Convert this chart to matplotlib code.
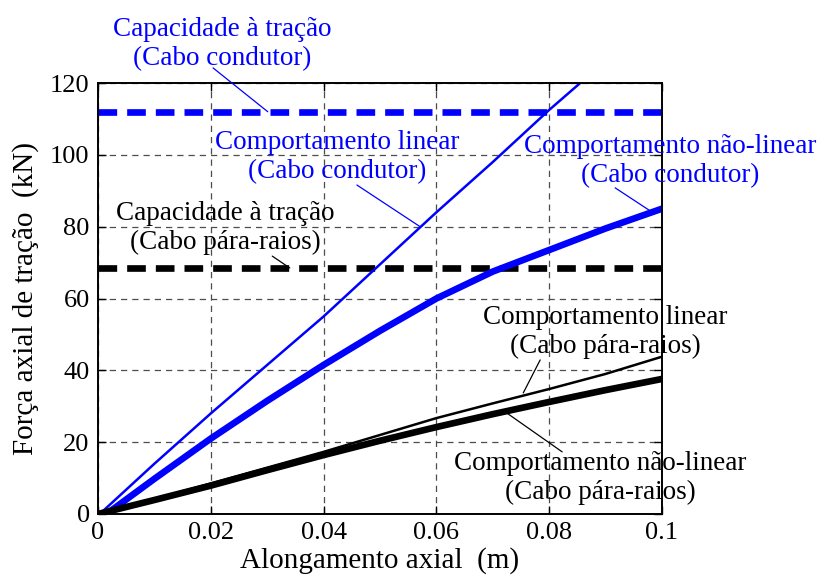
import numpy as np
import matplotlib
matplotlib.use("Agg")
import matplotlib.pyplot as plt

plt.rcParams['font.family'] = ['Liberation Serif', 'DejaVu Serif']

# alongamento axial (m) x forca (kN)
x_lin_cond = [0.0, 0.001, 0.01, 0.02, 0.03, 0.04, 0.05, 0.06, 0.07, 0.08, 0.0855]
y_lin_cond = [0.0, 1.0, 14.0, 28.0, 41.5, 55.0, 69.5, 84.0, 98.0, 112.5, 120.0]

x_nl_cond = [0.0015, 0.01, 0.02, 0.03, 0.04, 0.05, 0.06, 0.07, 0.08, 0.09, 0.1]
y_nl_cond = [0.0, 9.8, 21.0, 31.5, 41.5, 51.0, 60.0, 67.5, 73.5, 79.5, 85.0]

x_lin_pr = [0.0, 0.01, 0.02, 0.03, 0.04, 0.05, 0.06, 0.07, 0.08, 0.09, 0.1]
y_lin_pr = [0.0, 4.2, 8.5, 12.9, 17.3, 22.0, 26.7, 30.8, 34.8, 39.0, 43.8]

x_nl_pr = [0.0, 0.01, 0.02, 0.03, 0.04, 0.05, 0.06, 0.07, 0.08, 0.09, 0.1]
y_nl_pr = [0.0, 3.9, 7.9, 12.2, 16.4, 20.4, 24.2, 27.8, 31.2, 34.5, 37.6]

cap_cond = 112.0
cap_pr = 68.5

xticks = [0, 0.02, 0.04, 0.06, 0.08, 0.1]
xticklabels = ['0', '0.02', '0.04', '0.06', '0.08', '0.1']
yticks = [0, 20, 40, 60, 80, 100, 120]

azul = '#0000ff'

fig = plt.figure(figsize=(8.19, 5.83), dpi=100)
ax = fig.add_axes([98 / 819, 1 - 514 / 583, 564 / 819, 431 / 583])

ax.grid(True, color='0.3', linestyle=(0, (5, 4)), linewidth=0.9)
ax.set_axisbelow(True)

ax.axhline(cap_cond, color=azul, lw=4.8, linestyle=(0, (2.8, 1.5)))
ax.axhline(cap_pr, color='black', lw=4.8, linestyle=(0, (2.8, 1.5)))

ax.plot(x_lin_cond, y_lin_cond, color=azul, lw=1.8)
ax.plot(x_nl_cond, y_nl_cond, color=azul, lw=4.8)
ax.plot(x_lin_pr, y_lin_pr, color='black', lw=1.8)
ax.plot(x_nl_pr, y_nl_pr, color='black', lw=4.8)

ax.set_xlim(0, 0.1)
ax.set_ylim(0, 120)
ax.set_xticks(xticks)
ax.set_xticklabels(xticklabels)
ax.set_yticks(yticks)
ax.tick_params(direction='in', length=6, width=1, labelsize=19,
               top=True, right=True, pad=6)
for s in ax.spines.values():
    s.set_linewidth(1.4)

ax.set_xlabel('Alongamento axial  (m)', fontsize=21, labelpad=2)
ax.set_ylabel('Força axial de tração  (kN)', fontsize=21, labelpad=8)

# textos e linhas de chamada
notas = [
    ('Capacidade à tração\n(Cabo condutor)', (0.0220, 130.8), azul,
     (0.0204, 124.2), (0.0301, cap_cond)),
    ('Comportamento linear\n(Cabo condutor)', (0.0424, 99.4), azul,
     (0.0459, 91.6), (0.0571, 80.0)),
    ('Comportamento não-linear\n(Cabo condutor)', (0.1014, 98.3), azul,
     (0.0917, 90.8), (0.098, 84.3)),
    ('Capacidade à tração\n(Cabo pára-raios)', (0.0225, 79.6), 'black',
     (0.0309, 71.8), (0.034, cap_pr)),
    ('Comportamento linear\n(Cabo pára-raios)', (0.0899, 50.7), 'black',
     (0.0784, 42.9), (0.0754, 33.7)),
    ('Comportamento não-linear\n(Cabo pára-raios)', (0.0890, 10.0), 'black',
     (0.0823, 17.3), (0.0725, 28.1)),
]
for txt, pos, cor, ini, fim in notas:
    ax.text(pos[0], pos[1], txt, color=cor, fontsize=19.5, ha='center',
            va='center', linespacing=1.2, clip_on=False)
    ax.annotate('', xy=fim, xytext=ini,
                arrowprops=dict(arrowstyle='-', color=cor, lw=0.9,
                                shrinkA=0, shrinkB=0),
                annotation_clip=False)

fig.savefig('out.png', dpi=100)
